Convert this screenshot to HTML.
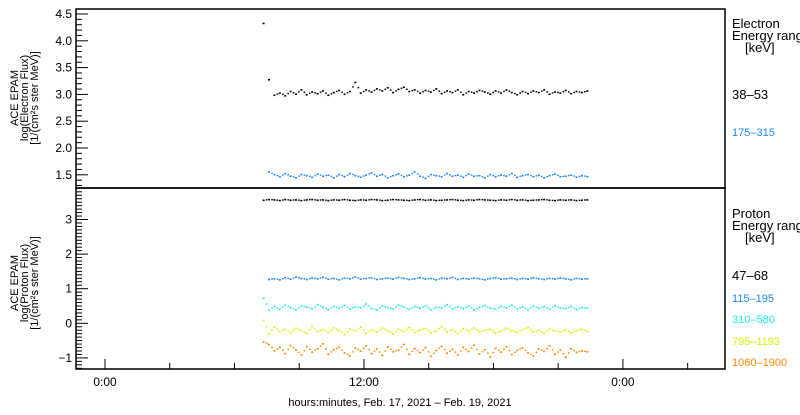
<!DOCTYPE html>
<html><head><meta charset="utf-8"><style>
body{margin:0;background:#fff;}
svg text{font-family:"Liberation Sans",sans-serif;}
</style></head><body>
<svg id="c" width="800" height="410" viewBox="0 0 800 410" xmlns="http://www.w3.org/2000/svg">
<g id="axes"></g>
<g id="marks"></g>
<text x="400" y="406" font-size="11" text-anchor="middle">hours:minutes, Feb. 17, 2021 – Feb. 19, 2021</text>
<g font-size="11" text-anchor="middle">
<text transform="translate(18,98) rotate(-90)">ACE EPAM</text>
<text transform="translate(28,98) rotate(-90)">log(Electron Flux)</text>
<text transform="translate(38,98) rotate(-90)">[1/(cm²s ster MeV)]</text>
</g>
<g font-size="11" text-anchor="middle">
<text transform="translate(18,283) rotate(-90)">ACE EPAM</text>
<text transform="translate(28,283) rotate(-90)">log(Proton Flux)</text>
<text transform="translate(38,283) rotate(-90)">[1/(cm²s ster MeV)]</text>
</g>
<g font-size="13">
<text x="732" y="28">Electron</text>
<text x="732" y="40">Energy range</text>
<text x="745" y="52">[keV]</text>
<text x="732" y="99">38–53</text>
<text x="732" y="136" fill="#1e88ff" font-size="11">175–315</text>
</g>
<g font-size="13">
<text x="732" y="218">Proton</text>
<text x="732" y="230">Energy range</text>
<text x="745" y="242">[keV]</text>
<text x="732" y="280">47–68</text>
<text x="732" y="302" fill="#1e88ff" font-size="11">115–195</text>
<text x="732" y="323" fill="#22eedd" font-size="11">310–580</text>
<text x="732" y="345" fill="#ddee00" font-size="11">795–1193</text>
<text x="732" y="366" fill="#ff8800" font-size="11">1060–1900</text>
</g>
</svg>
<script>
const timeStart = 7.35;
const timeStep = 0.25;
const xTickHours = [0, 12, 24];
const xTickLabels = ["0:00", "12:00", "0:00"];
const eTicks = [1.5, 2.0, 2.5, 3.0, 3.5, 4.0, 4.5];
const pTicks = [-1, 0, 1, 2, 3];
const e38 = [4.32,3.27,2.98,3.02,2.97,3.05,3.00,3.08,2.99,3.04,3.01,3.06,2.98,3.03,3.07,3.00,3.05,3.22,3.02,3.08,3.04,3.10,3.06,3.12,3.03,3.09,3.13,3.05,3.08,3.02,3.07,3.04,3.10,3.01,3.06,3.03,3.08,2.99,3.05,3.02,3.07,3.04,3.00,3.06,3.02,3.08,3.03,2.99,3.05,3.01,3.06,3.03,3.08,3.00,3.04,3.02,3.07,3.01,3.05,3.03,3.06];
const e175 = [null,1.55,1.50,1.46,1.52,1.47,1.44,1.50,1.48,1.45,1.51,1.47,1.49,1.44,1.50,1.46,1.52,1.48,1.45,1.49,1.53,1.47,1.50,1.44,1.48,1.51,1.46,1.49,1.55,1.47,1.43,1.50,1.48,1.46,1.52,1.47,1.49,1.45,1.51,1.47,1.48,1.44,1.50,1.46,1.49,1.47,1.52,1.45,1.48,1.50,1.46,1.49,1.44,1.48,1.51,1.46,1.47,1.49,1.45,1.48,1.46];
const p47 = [3.55,3.57,3.56,3.54,3.57,3.55,3.56,3.54,3.56,3.57,3.55,3.56,3.54,3.56,3.55,3.57,3.55,3.54,3.56,3.55,3.57,3.56,3.54,3.55,3.57,3.56,3.55,3.54,3.56,3.57,3.55,3.56,3.54,3.55,3.56,3.57,3.55,3.54,3.56,3.55,3.57,3.56,3.55,3.54,3.56,3.55,3.57,3.55,3.56,3.54,3.55,3.56,3.57,3.55,3.54,3.56,3.55,3.56,3.54,3.55,3.56];
const p115 = [null,1.26,1.28,1.25,1.31,1.27,1.33,1.29,1.26,1.30,1.28,1.32,1.27,1.29,1.25,1.30,1.28,1.33,1.27,1.29,1.31,1.26,1.28,1.30,1.27,1.32,1.29,1.26,1.28,1.31,1.27,1.29,1.25,1.30,1.28,1.32,1.26,1.29,1.27,1.30,1.28,1.25,1.29,1.31,1.27,1.28,1.30,1.26,1.29,1.27,1.31,1.28,1.26,1.29,1.27,1.30,1.28,1.25,1.29,1.27,1.28];
const p310 = [0.72,0.38,0.48,0.40,0.52,0.44,0.38,0.50,0.46,0.41,0.53,0.45,0.39,0.48,0.43,0.51,0.40,0.47,0.44,0.55,0.42,0.38,0.49,0.45,0.41,0.52,0.46,0.40,0.48,0.43,0.50,0.39,0.46,0.44,0.53,0.41,0.47,0.42,0.49,0.38,0.45,0.51,0.43,0.40,0.48,0.44,0.52,0.41,0.46,0.39,0.49,0.43,0.47,0.40,0.50,0.44,0.42,0.48,0.39,0.45,0.43];
const p795 = [0.08,-0.32,-0.12,-0.25,-0.18,-0.28,-0.15,-0.22,-0.30,-0.10,-0.24,-0.19,-0.27,-0.14,-0.21,-0.33,-0.17,-0.23,-0.12,-0.29,-0.20,-0.26,-0.15,-0.22,-0.31,-0.18,-0.24,-0.13,-0.27,-0.20,-0.16,-0.28,-0.22,-0.11,-0.25,-0.19,-0.30,-0.17,-0.23,-0.14,-0.26,-0.21,-0.18,-0.29,-0.24,-0.15,-0.22,-0.27,-0.19,-0.13,-0.25,-0.21,-0.30,-0.17,-0.23,-0.26,-0.19,-0.28,-0.22,-0.18,-0.24];
const p1060 = [-0.55,-0.62,-0.80,-0.70,-0.88,-0.65,-0.78,-0.92,-0.68,-0.84,-0.74,-0.60,-0.90,-0.77,-0.70,-0.86,-0.95,-0.72,-0.81,-0.66,-0.88,-0.75,-0.93,-0.69,-0.83,-0.78,-0.62,-0.90,-0.74,-0.85,-0.71,-0.96,-0.79,-0.67,-0.87,-0.76,-0.92,-0.70,-0.82,-0.64,-0.89,-0.77,-0.98,-0.73,-0.84,-0.68,-0.91,-0.79,-0.72,-0.86,-0.95,-0.75,-0.82,-0.66,-0.90,-0.78,-0.99,-0.74,-0.85,-0.80,-0.83];

const NS = "http://www.w3.org/2000/svg";
const X0 = 76, X1 = 725;
const xOf = h => 105 + 21.58 * h;
const eY = v => 14 + (4.5 - v) * 53.6;
const pY = v => 323.3 - 34.6 * v;
const axes = document.getElementById('axes');
const marks = document.getElementById('marks');
function mk(tag, attrs, parent) {
  const el = document.createElementNS(NS, tag);
  for (const k in attrs) el.setAttribute(k, attrs[k]);
  parent.appendChild(el);
  return el;
}
let f1 = mk('rect', {x: X0, y: 9, width: X1 - X0, height: 179, fill: 'none', stroke: '#000', 'stroke-width': 1.5}, axes);


let f2 = mk('rect', {x: X0, y: 188, width: X1 - X0, height: 181, fill: 'none', stroke: '#000', 'stroke-width': 1.5}, axes);


for (let v = 1.3; v <= 4.55; v += 0.1) {
  const vv = Math.round(v * 10) / 10;
  const major = Math.abs(vv * 2 - Math.round(vv * 2)) < 1e-6;
  const y = eY(vv);
  let t = mk('line', {x1: X0, x2: X0 + (major ? 12 : 6), y1: y, y2: y, stroke: '#000', 'stroke-width': 1}, axes);
  
  
}
eTicks.forEach(v => {
  let t = mk('text', {x: 72, y: eY(v) + 4, 'font-size': 12, 'text-anchor': 'end'}, axes);
  t.textContent = v.toFixed(1);
  
  
});
for (let v = -1.3; v <= 3.85; v += 0.1) {
  const vv = Math.round(v * 10) / 10;
  const major = Math.abs(vv - Math.round(vv)) < 1e-6;
  const y = pY(vv);
  let t = mk('line', {x1: X0, x2: X0 + (major ? 12 : 6), y1: y, y2: y, stroke: '#000', 'stroke-width': 1}, axes);
  
  
}
pTicks.forEach(v => {
  let t = mk('text', {x: 72, y: pY(v) + 4, 'font-size': 12, 'text-anchor': 'end'}, axes);
  t.textContent = v < 0 ? '−' + Math.abs(v) : String(v);
  
  
});
for (let h = 0; h <= 28; h += 3) {
  const x = xOf(h);
  const major = h % 12 === 0;
  let t = mk('line', {x1: x, x2: x, y1: 369, y2: 369 - (major ? 10 : 6), stroke: '#000', 'stroke-width': 1}, axes);
  
  
}
xTickHours.forEach((h, i) => {
  let t = mk('text', {x: xOf(h), y: 386, 'font-size': 12, 'text-anchor': 'middle'}, axes);
  t.textContent = xTickLabels[i];
  
  
});
function drawSeries(vals, yf, color, name) {
  const g = mk('g', {fill: color}, marks);
  
  
  vals.forEach((v, i) => {
    if (v === null) return;
    const x = xOf(timeStart + i * timeStep);
    let r = mk('rect', {x: x - 1, y: yf(v) - 1, width: 2, height: 1.6}, g);
    
    
    const nv = vals[i + 1];
    if (nv !== undefined && nv !== null && Math.abs(yf(nv) - yf(v)) < 15) {
      let r2 = mk('rect', {x: x + 2.2, y: (yf(v) + yf(nv)) / 2 - 1, width: 1.6, height: 1.4}, g);
      
      
    }
  });
}
drawSeries(e38, eY, '#000', 'electron-38-53');
drawSeries(e175, eY, '#1e88ff', 'electron-175-315');
drawSeries(p47, pY, '#000', 'proton-47-68');
drawSeries(p115, pY, '#1e88ff', 'proton-115-195');
drawSeries(p310, pY, '#22eedd', 'proton-310-580');
drawSeries(p795, pY, '#ddee00', 'proton-795-1193');
drawSeries(p1060, pY, '#ff8800', 'proton-1060-1900');
</script>
</body></html>
